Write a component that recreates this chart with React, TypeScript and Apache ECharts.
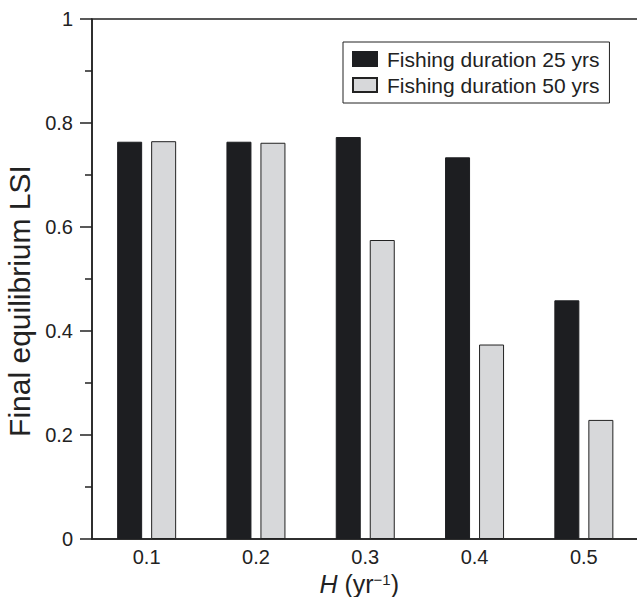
import React, { useEffect, useRef } from "react";
import * as echarts from "echarts";

const categories = ["0.1", "0.2", "0.3", "0.4", "0.5"];
const seriesNames = ["Fishing duration 25 yrs", "Fishing duration 50 yrs"];
const values25 = [0.764, 0.764, 0.773, 0.734, 0.459];
const values50 = [0.765, 0.762, 0.575, 0.374, 0.229];
const yTicks = { min: 0, max: 1, interval: 0.2 };

const FONT = "'Liberation Sans', Arial, Helvetica, sans-serif";
const INK = "#222222";

export default function App() {
  const ref = useRef<HTMLDivElement>(null);
  useEffect(() => {
    if (!ref.current) return;
    const chart = echarts.init(ref.current, null, { renderer: "svg" });
    chart.setOption({
      animation: false,
      textStyle: { fontFamily: FONT, color: INK },
      grid: {
        left: 92,
        top: 19,
        right: 21.5,
        bottom: 58,
        outerBoundsMode: "none",
        containLabel: false,
        show: true,
        borderColor: INK,
        borderWidth: 1.5,
        backgroundColor: "transparent",
      },
      legend: {
        orient: "vertical",
        left: 343,
        top: 42,
        padding: [6, 10, 7, 9],
        itemWidth: 24,
        itemHeight: 14,
        itemGap: 4,
        icon: "rect",
        borderColor: INK,
        borderWidth: 1,
        textStyle: {
          fontFamily: FONT,
          fontSize: 21,
          color: INK,
          lineHeight: 22,
          padding: [0, 0, 0, 5],
        },
        data: seriesNames,
      },
      xAxis: {
        type: "category",
        data: categories,
        axisLine: { show: true, lineStyle: { color: INK, width: 1.5 } },
        axisTick: { show: false },
        axisLabel: { fontSize: 20, color: INK, margin: 8, fontFamily: FONT },
        splitLine: { show: false },
        name: "{i|H} (yr{sup|−1})",
        nameLocation: "middle",
        nameGap: 32,
        nameTextStyle: {
          fontSize: 25,
          color: INK,
          fontFamily: FONT,
          padding: [0, 12, 0, 0],
          rich: {
            i: { fontStyle: "italic", fontSize: 25, fontFamily: FONT, color: INK },
            sup: { fontSize: 15, fontFamily: FONT, color: INK, verticalAlign: "top", padding: [0, 0, 10, 0] },
          },
        },
      },
      yAxis: {
        type: "value",
        min: yTicks.min,
        max: yTicks.max,
        interval: yTicks.interval,
        axisLine: { show: true, lineStyle: { color: INK, width: 1.5 } },
        axisTick: { show: true, length: 12, lineStyle: { color: INK, width: 1.5 } },
        minorTick: { show: true, splitNumber: 2, length: 7, lineStyle: { color: INK, width: 1.5 } },
        splitLine: { show: false },
        axisLabel: {
          fontSize: 20,
          color: INK,
          margin: 19,
          fontFamily: FONT,
          formatter: (v: number) => (v === 0 || v === 1 ? String(v) : v.toFixed(1)),
        },
        name: "Final equilibrium LSI",
        nameLocation: "middle",
        nameGap: 58,
        nameTextStyle: { fontSize: 30, color: INK, fontFamily: FONT, padding: [0, 44, 0, 0] },
      },
      series: [
        {
          name: seriesNames[0],
          type: "bar",
          data: values25,
          barWidth: 25,
          barGap: "36%",
          itemStyle: { color: "#1d1e21", borderColor: "#1d1e21", borderWidth: 1 },
        },
        {
          name: seriesNames[1],
          type: "bar",
          data: values50,
          barWidth: 25,
          itemStyle: { color: "#d7d8da", borderColor: "#222222", borderWidth: 1 },
        },
      ],
    });
    return () => chart.dispose();
  }, []);
  return (
    <div style={{ position: "absolute", left: 0, top: 0, width: 637, height: 597, overflow: "hidden", background: "#fff" }}>
      <div ref={ref} style={{ position: "absolute", left: 0, top: 0, width: 660, height: 597 }} />
    </div>
  );
}
